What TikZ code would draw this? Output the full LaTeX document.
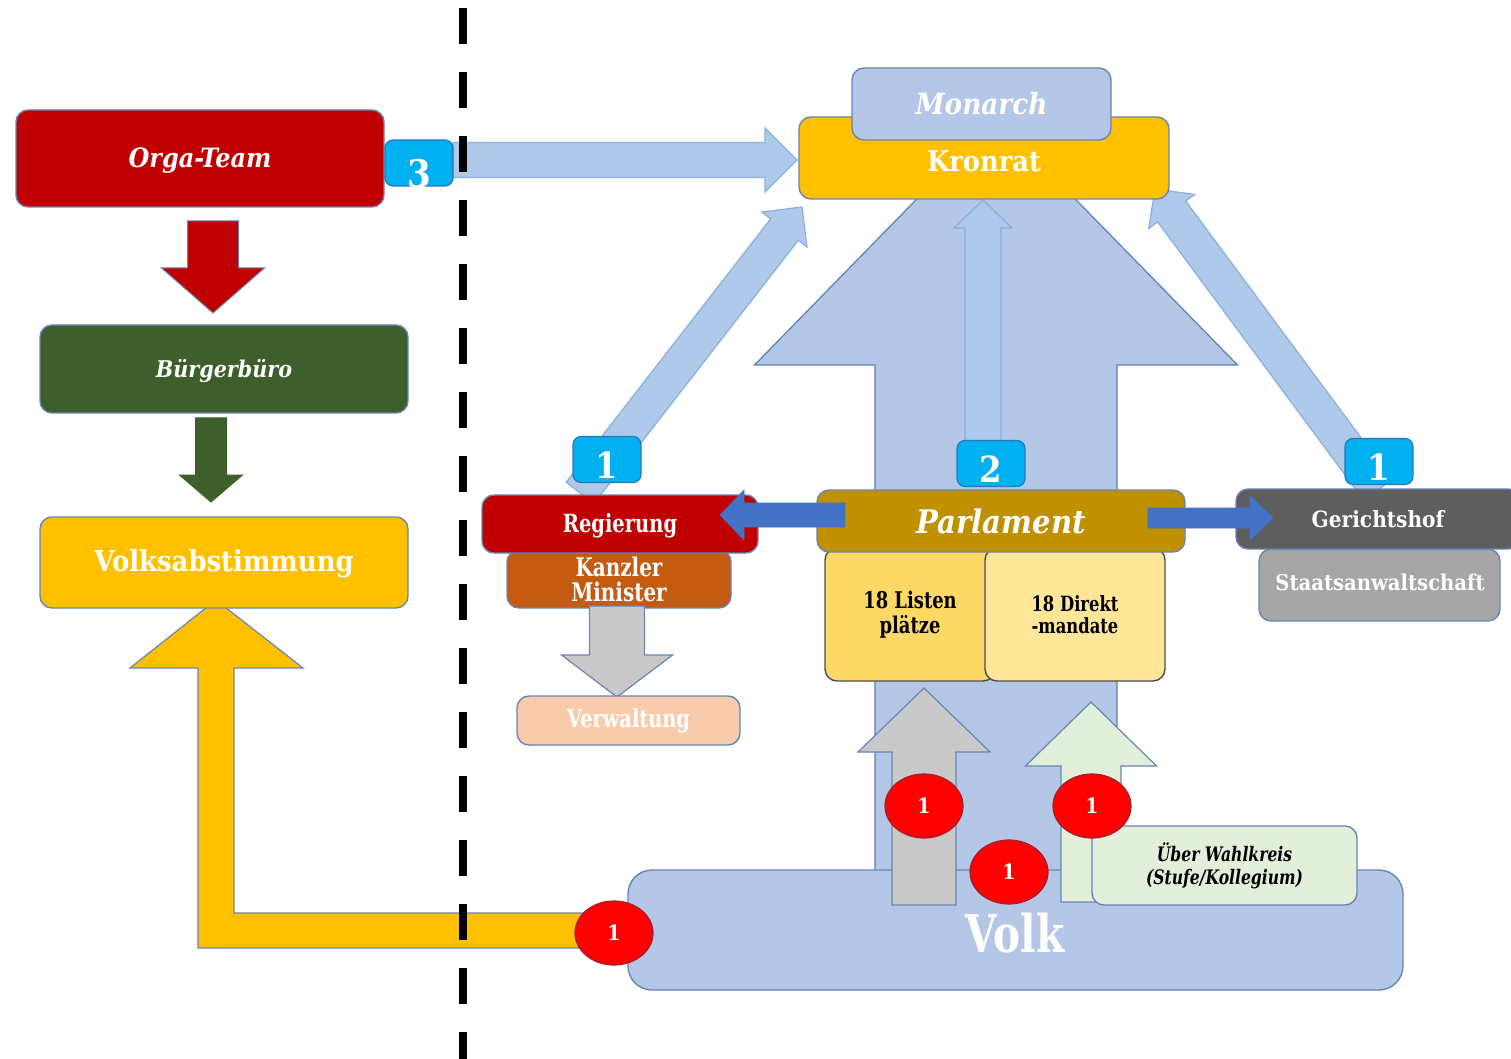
\documentclass[tikz,border=0pt]{standalone}
\usepackage{fontspec}
\setmainfont{DejaVu Serif}[FakeStretch=0.9]
\newfontfamily\condf{DejaVu Serif}[FakeStretch=0.78]
\usetikzlibrary{calc,shapes.geometric}
\definecolor{redbox}{HTML}{C00000}
\definecolor{greenbox}{HTML}{3E5E2B}
\definecolor{goldbox}{HTML}{FFC000}
\definecolor{lblue}{HTML}{B4C7E7}
\definecolor{arrlight}{HTML}{AEC9E9}
\definecolor{arrlightb}{HTML}{8AAEDD}
\definecolor{bordc}{HTML}{6A84B4}
\definecolor{parlc}{HTML}{BF9000}
\definecolor{listc}{HTML}{FFD966}
\definecolor{direktc}{HTML}{FFE699}
\definecolor{kanzc}{HTML}{C55A11}
\definecolor{verwc}{HTML}{F8CBAD}
\definecolor{gerc}{HTML}{5E5E5E}
\definecolor{staatc}{HTML}{A6A6A6}
\definecolor{badgec}{HTML}{00B0F0}
\definecolor{badgeb}{HTML}{2E75B6}
\definecolor{parrc}{HTML}{4472C4}
\definecolor{grayarrc}{HTML}{C9C9C9}
\definecolor{ltgreenc}{HTML}{E2EFDA}
\definecolor{redcirc}{HTML}{FF0000}
\definecolor{redcircb}{HTML}{A02030}
\definecolor{bigborder}{HTML}{5A7DB8}
\newcommand\blkarrow[6]{%
  \coordinate (bah) at ($(#3)!#6!(#2)$);
  \draw[#1] ($(#2)!#4!90:(#3)$) -- ($(bah)!#4!90:(#3)$) -- ($(bah)!#5!90:(#3)$) -- (#3) -- ($(bah)!#5!-90:(#3)$) -- ($(bah)!#4!-90:(#3)$) -- ($(#2)!#4!-90:(#3)$) -- cycle;}
\begin{document}
\begin{tikzpicture}[x=0.5pt,y=-0.5pt,
  box/.style={draw=bordc, line width=0.7pt, rounded corners=6pt, inner sep=0pt, text=white, align=center},
  badge/.style={draw=badgeb, fill=badgec, line width=0.6pt, rounded corners=4pt, minimum width=34pt, minimum height=23pt, inner sep=0pt},
  badgetxt/.style={text=white, inner sep=0pt, font=\bfseries\fontsize{18}{18}\selectfont},
  wtxt/.style={text=white, inner sep=0pt, align=center},
  redc/.style={ellipse, draw=redcircb, fill=redcirc, line width=0.6pt, minimum width=39pt, minimum height=32pt, inner sep=0pt, text=white, font=\bfseries\fontsize{10.5}{11}\selectfont},
  larr/.style={fill=arrlight, draw=arrlightb, line width=0.6pt},
  bigarr/.style={fill=lblue, draw=bigborder, line width=0.6pt},
  redarr/.style={fill=redbox, draw=bordc, line width=0.5pt},
  grnarr/.style={fill=greenbox, draw=greenbox, line width=0.5pt},
  grayarr/.style={fill=grayarrc, draw=bordc, line width=0.6pt},
  ltgrnarr/.style={fill=ltgreenc, draw=bordc, line width=0.6pt},
  parr/.style={fill=parrc, draw=parrc, line width=0.3pt},
  yarr/.style={fill=goldbox, draw=bordc, line width=0.6pt},
  divider/.style={line width=4pt, dash pattern=on 18pt off 14pt, dash phase=28pt}]
\useasboundingbox (0,0) rectangle (1511,1059);

% big up arrow (Volk -> Kronrat)
\blkarrow{bigarr}{996,880}{996,118}{60.5pt}{120.75pt}{123.5pt}

% yellow L arrow (Volk -> Volksabstimmung)
\draw[yarr] (640,913) -- (234,913) -- (234,668) -- (303,668) -- (216,600) -- (130,668) -- (198,668) -- (198,948) -- (640,948) -- cycle;

% light blue arrows to Kronrat
\blkarrow{larr}{453,160}{797,160}{8.75pt}{16pt}{16pt}
\blkarrow{larr}{580,493}{802,207}{8.75pt}{14.3pt}{14.3pt}
\blkarrow{larr}{1378,490}{1155,189}{8.75pt}{14.3pt}{14pt}
\blkarrow{larr}{983,445}{983,200}{9pt}{14.5pt}{14pt}

% Kronrat / Monarch
\node[box, fill=goldbox, minimum width=185pt, minimum height=41pt] (kronrat) at (984,158) {};
\node[wtxt, font=\bfseries\fontsize{14.3}{16}\selectfont] (kronrattxt) at (984,161) {Kronrat};
\node[box, fill=lblue, minimum width=129.5pt, minimum height=36pt, font=\bfseries\itshape\fontsize{14.6}{16}\selectfont] (monarch) at (981.5,104) {Monarch};

% left column
\node[box, fill=redbox, minimum width=184pt, minimum height=48.5pt] (orga) at (200,158.5) {};
\node[wtxt, font=\bfseries\itshape\fontsize{13.3}{15}\selectfont] (orgatxt) at (200,161) {Orga-Team};
\node[badge] (badge3) at (419,163) {};
\begin{scope}
\clip[rounded corners=4pt] (badge3.south west) rectangle (badge3.north east);
\node[badgetxt, font=\bfseries\fontsize{19}{19}\selectfont] (three) at (419,174) {3};
\end{scope}
\blkarrow{redarr}{213,221}{213,313}{12.75pt}{25.75pt}{22.5pt}
\node[box, fill=greenbox, minimum width=184pt, minimum height=44pt] (buerger) at (224,369) {};
\node[wtxt, font=\bfseries\itshape\fontsize{11.5}{13}\selectfont] (buergertxt) at (224,371) {Bürgerbüro};
\blkarrow{grnarr}{211,418}{211,502}{7.75pt}{15.75pt}{13.5pt}
\node[box, fill=goldbox, minimum width=184pt, minimum height=45.5pt] (volksab) at (224,562.5) {};
\node[wtxt, font=\bfseries\fontsize{14.4}{16}\selectfont] (volksabtxt) at (224,564) {Volksabstimmung};

% Regierung
\node[box, fill=kanzc, minimum width=112pt, minimum height=29pt, font=\condf\bfseries\fontsize{12.8}{12.5}\selectfont] (kanzler) at (619,579) {Kanzler\\Minister};
\node[box, fill=redbox, minimum width=138pt, minimum height=29pt] (regierung) at (620,524) {};
\node[wtxt, font=\condf\bfseries\fontsize{12.5}{14}\selectfont] (regtxt) at (620,526) {Regierung};
\blkarrow{grayarr}{617,606}{617,697}{13.75pt}{27.75pt}{21pt}
\node[box, fill=verwc, minimum width=111.5pt, minimum height=24.5pt, font=\condf\bfseries\fontsize{12.4}{14}\selectfont] (verw) at (628.5,720.5) {Verwaltung};

% Parlament
\node[box, draw=black!70, fill=listc, text=black, minimum width=85pt, minimum height=66.5pt, font=\condf\bfseries\fontsize{11.5}{12.5}\selectfont] (listen) at (910,614.5) {18 Listen\\plätze};
\node[box, draw=black!70, fill=direktc, text=black, minimum width=90pt, minimum height=66.5pt, font=\condf\bfseries\fontsize{10.5}{11}\selectfont] (direkt) at (1075,614.5) {18 Direkt\\-mandate};
\node[box, fill=parlc, minimum width=184pt, minimum height=31pt, font=\bfseries\itshape\fontsize{16.2}{18}\selectfont] (parl) at (1001,521) {Parlament};

% Gerichtshof
\node[box, fill=staatc, minimum width=120.5pt, minimum height=36pt] (staats) at (1379.5,585) {};
\node[wtxt, font=\bfseries\fontsize{10.9}{12}\selectfont] (staatstxt) at (1380,582) {Staatsanwaltschaft};
\node[box, fill=gerc, minimum width=142pt, minimum height=30pt, font=\bfseries\fontsize{11.2}{13}\selectfont] (gericht) at (1378,519) {Gerichtshof};

% Parlament arrows
\blkarrow{parr}{845,515}{720,515}{6pt}{12.5pt}{12pt}
\blkarrow{parr}{1148,518}{1273,518}{5pt}{11pt}{11.5pt}

% badges
\node[badge] (badgeL) at (607,459.5) {};
\node[badgetxt] (badgeLtxt) at (607,465) {1};
\node[badge] (badge2) at (991,463.5) {};
\node[badgetxt] (badge2txt) at (991,469) {2};
\node[badge] (badgeR) at (1379,461.5) {};
\node[badgetxt] (badgeRtxt) at (1379,467) {1};

% Volk
\node[box, fill=lblue, rounded corners=12pt, minimum width=387.5pt, minimum height=60pt] (volk) at (1015.5,930) {};
\blkarrow{grayarr}{924,905}{924,688}{16pt}{33pt}{32pt}
\blkarrow{ltgrnarr}{1091,902}{1091,702}{15pt}{32.75pt}{32pt}
\node[box, fill=ltgreenc, text=black, minimum width=132.5pt, minimum height=39.5pt, font=\condf\bfseries\itshape\fontsize{10}{11.5}\selectfont] (wahl) at (1224.5,865.5) {Über Wahlkreis\\(Stufe/Kollegium)};
\node[wtxt, font=\condf\bfseries\fontsize{26}{28}\selectfont] (volktext) at (1015,933) {Volk};

% red circles
\node[redc] (c1) at (924,806) {1};
\node[redc] (c2) at (1092,806) {1};
\node[redc] (c3) at (1009,872) {1};
\node[redc] (c4) at (614,933) {1};

% dashed divider
\coordinate (dtop) at (463,0);
\coordinate (dbot) at (463,1059);
\draw[divider] (dtop) -- (dbot);
\end{tikzpicture}
\end{document}
